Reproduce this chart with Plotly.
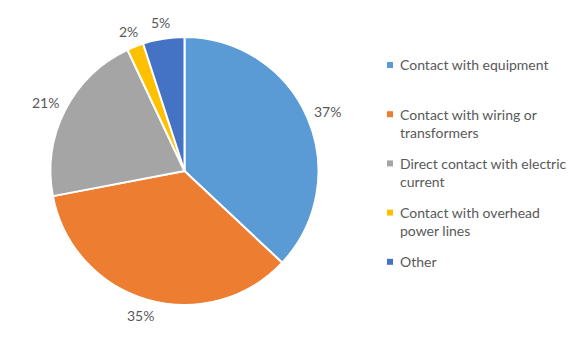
import numpy as np
import plotly.graph_objects as go

categories = [
    "Contact with equipment",
    "Contact with wiring or transformers",
    "Direct contact with electric current",
    "Contact with overhead power lines",
    "Other",
]
legend_lines = [
    ["Contact with equipment"],
    ["Contact with wiring or", "transformers"],
    ["Direct contact with electric", "current"],
    ["Contact with overhead", "power lines"],
    ["Other"],
]
shares = [37, 35, 21, 2, 5]
colors = ["#5B9BD5", "#ED7D31", "#A5A5A5", "#FFC000", "#4472C4"]

W, H = 580, 345
TEXT = "#595959"
FONT = "Lato"

# pie placement (pixels)
cx, cy, r = 184.5, 171.0, 134.0
gap = 10.0

fig = go.Figure()
fig.add_trace(go.Pie(
    labels=categories,
    values=shares,
    sort=False,
    direction="clockwise",
    rotation=0,
    marker=dict(colors=colors, line=dict(color="white", width=2)),
    textinfo="none",
    hoverinfo="label+percent",
    showlegend=False,
    domain=dict(x=[(cx - r) / W, (cx + r) / W],
                y=[(H - cy - r) / H, (H - cy + r) / H]),
))


def px2paper(x, y):
    return x / W, 1 - y / H


# percentage labels just outside each slice, at its mid angle
total = float(sum(shares))
cum = np.cumsum([0] + shares[:-1])
for start, v in zip(cum, shares):
    txt = f"{round(100 * v / total)}%"
    ang = 2 * np.pi * (start + v / 2) / total
    dx, dy = np.sin(ang), -np.cos(ang)
    bw, bh = 8.0 * len(txt), 12.0
    lx = cx + (r + gap) * dx + bw / 2 * dx
    ly = cy + (r + gap) * dy + bh / 2 * dy
    ax, ay = px2paper(lx, ly)
    fig.add_annotation(
        x=ax, y=ay, xref="paper", yref="paper", text=txt, showarrow=False,
        font=dict(family=FONT, size=14, color=TEXT),
        xanchor="center", yanchor="middle",
    )

# legend: small square swatch plus wrapped label per category
leg_x, leg_y0, leg_step, line_h, sw = 390.0, 65.0, 49.2, 18.0, 6.0
for i, (lines, col) in enumerate(zip(legend_lines, colors)):
    yc = leg_y0 + i * leg_step
    x0, y0 = px2paper(leg_x - sw / 2, yc - sw / 2)
    x1, y1 = px2paper(leg_x + sw / 2, yc + sw / 2)
    fig.add_shape(type="rect", xref="paper", yref="paper",
                  x0=x0, x1=x1, y0=y1, y1=y0,
                  fillcolor=col, line=dict(width=0))
    for j, line in enumerate(lines):
        tx, ty = px2paper(leg_x + 8, yc + j * line_h)
        fig.add_annotation(
            x=tx, y=ty, xref="paper", yref="paper", text=line,
            showarrow=False, xanchor="left", yanchor="middle",
            font=dict(family=FONT, size=14, color=TEXT),
        )

fig.update_layout(
    width=W, height=H,
    margin=dict(l=0, r=0, t=0, b=0),
    paper_bgcolor="white", plot_bgcolor="white",
    showlegend=False,
    font=dict(family=FONT, color=TEXT),
)

fig.write_html("out.html")
